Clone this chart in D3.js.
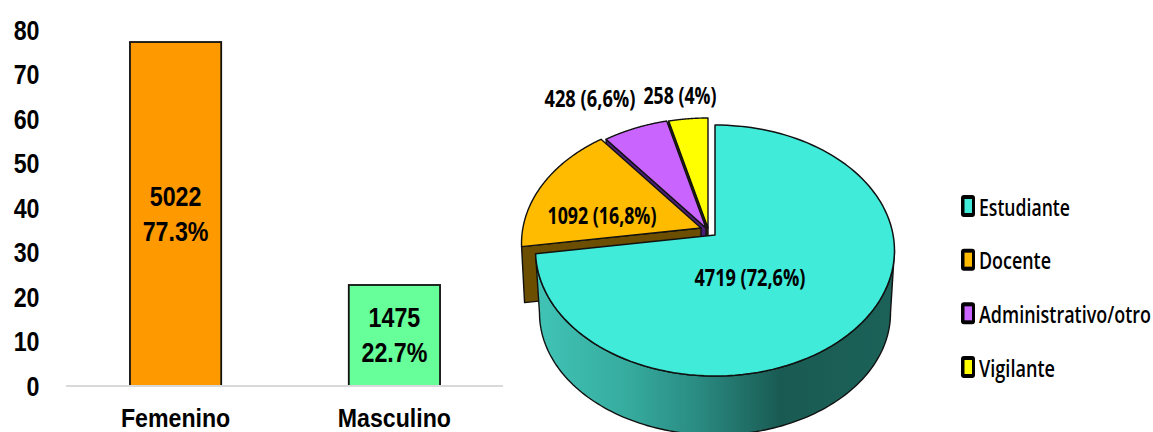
<!DOCTYPE html>
<html><head><meta charset="utf-8">
<script src="https://cdn.jsdelivr.net/npm/d3@7/dist/d3.min.js"></script>
<style>html,body{margin:0;padding:0;background:#fff}svg{display:block}</style>
</head><body><svg id="c" width="1153" height="432"></svg>
<script>
const genders = ["Femenino","Masculino"];
const genderPct = [77.3,22.7];
const genderCount = [5022,1475];
const genderFill = ["#FF9900","#66FF99"];
const yTicks = [0,10,20,30,40,50,60,70,80];

const roles = ["Estudiante","Docente","Administrativo/otro","Vigilante"];
const roleCount = [4719,1092,428,258];
const rolePctLabel = ["72,6%","16,8%","6,6%","4%"];
const roleTop = ["#40EBD9","#FFBB00","#C964FF","#FFFF00"];
const roleWall = ["#1C6259","#6B4E00","#4B1F78","#3A3606"];

const svg = d3.select("#c");
const sans = "'Liberation Sans',Arial,sans-serif";
const human = "'Open Sans',sans-serif";
const SX = 0.83;

function narrowText(px,py,t,anchor,fs=28,sx=SX){
  return svg.append("text").attr("transform",`translate(${px},${py}) scale(${sx},1)`)
    .attr("text-anchor",anchor).attr("font-family",sans).attr("font-weight",700)
    .attr("font-size",fs).attr("fill","#000").text(t);
}
function fitText(px,py,t,width,weight,fs){
  const el = svg.append("text").attr("font-family",human).attr("font-weight",weight)
    .attr("font-size",fs).attr("fill","#000").attr("dy","0.36em").text(t);
  const natural = el.node().getComputedTextLength();
  el.attr("transform",`translate(${px},${py}) scale(${width/natural},1)`);
  return el;
}

/* ---------- bars ---------- */
const y = d3.scaleLinear().domain([0,80]).range([386,30]);
const x = d3.scaleBand().domain(genders).range([66,503]).paddingInner(0.583).paddingOuter(0.29);
yTicks.forEach(t=>narrowText(39.5,y(t)+9.5,t,"end"));

svg.selectAll("rect.bar").data(genders).join("rect").attr("class","bar")
  .attr("x",d=>x(d)+0.5).attr("width",x.bandwidth())
  .attr("y",(d,i)=>y(genderPct[i])).attr("height",(d,i)=>y(0)-y(genderPct[i]))
  .attr("fill",(d,i)=>genderFill[i]).attr("stroke","#111").attr("stroke-width",1.8);
svg.append("line").attr("x1",66).attr("x2",503).attr("y1",y(0)).attr("y2",y(0)).attr("stroke","#d9d9d9").attr("stroke-width",2);

genders.forEach((g,i)=>{
  const cx = x(g)+x.bandwidth()/2+0.5, cy = y(genderPct[i]/2);
  narrowText(cx,cy-17.5+9.5,genderCount[i],"middle");
  narrowText(cx,cy+17.5+9.5,genderPct[i].toFixed(1)+"%","middle");
  narrowText(cx,426.5,g,"middle",26,0.89);
});

/* ---------- perspective pie ---------- */
const A = d3.pie().sort(null).startAngle(0).endAngle(2*Math.PI)(roleCount);
const apexX = 715, apexY = 235, bx = 178.1, by = 123.6, k = 0.1236;
function proj(r,a,ox=0,oy=0){
  const u = r*Math.sin(a), v = r*Math.cos(a), w = 1+k*v;
  return [apexX+ox+bx*u/w, apexY+oy-by*v/w];
}
const line = d3.line();
const arcPts = (a0,a1,f)=>d3.range(0,121).map(i=>f(a0+(a1-a0)*i/120));
const offs = [[0,0],[-14,-7],[-9,-7],[-7,-7]];
const T = 56;

const defs = svg.append("defs");
const grad = defs.append("linearGradient").attr("id","wall").attr("gradientUnits","userSpaceOnUse")
  .attr("x1",536).attr("x2",895).attr("y1",0).attr("y2",0);
[[0,"#40C4B6"],[0.25,"#36AC9F"],[0.45,"#2A8B82"],[0.68,"#195B53"],[1,"#1C6259"]].forEach(([o,c])=>grad.append("stop").attr("offset",o).attr("stop-color",c));

/* exploded slices, back to front */
[3,2,1].forEach(i=>{
  const s = A[i], [ox,oy] = offs[i];
  const ap = proj(0,0,ox,oy), p0 = proj(1,s.startAngle,ox,oy);
  const wall = [ap,p0,[p0[0]+3,p0[1]+T],[ap[0],ap[1]+T]];
  svg.append("path").attr("d",line(wall)+"Z").attr("fill",roleWall[i]).attr("stroke","#111").attr("stroke-width",1.4).attr("stroke-linejoin","round");
  const top = [ap,...arcPts(s.startAngle,s.endAngle,a=>proj(1,a,ox,oy))];
  svg.append("path").attr("d",line(top)+"Z").attr("fill",roleTop[i]).attr("stroke","#111").attr("stroke-width",1.4).attr("stroke-linejoin","round");
});

/* main slice: wall then top */
const m = A[0];
const wallTop = arcPts(Math.PI/2+0.12, m.endAngle, a=>proj(1,a));
const lowCx = 715, lowCy = 313, lowRx = 175.5, lowRy = 122;
const wallLow = d3.range(0,121).map(i=>{const t=Math.PI*i/120;return [lowCx-lowRx*Math.cos(t),lowCy+lowRy*Math.sin(t)];});
svg.append("path").attr("d",line([...wallTop,...wallLow])+"Z")
  .attr("fill","url(#wall)").attr("stroke","#111").attr("stroke-width",1.4);
svg.append("path").attr("d",line([proj(0,0),...arcPts(m.startAngle,m.endAngle,a=>proj(1,a))])+"Z")
  .attr("fill",roleTop[0]).attr("stroke","#111").attr("stroke-width",1.5).attr("stroke-linejoin","round");

/* pie labels */
const labelPos = [[750,277,111],[602,215,109],[590,98,91],[680,95,73]];
roles.forEach((r,i)=>{
  const [lx,ly,lw] = labelPos[i];
  fitText(lx-lw/2,ly,`${roleCount[i]} (${rolePctLabel[i]})`,lw,700,24);
});

/* legend */
const ly = d3.scalePoint().domain(roles).range([206,367]);
const legendW = [91,72,172,76];
roles.forEach((r,i)=>{
  svg.append("rect").attr("x",961).attr("y",ly(r)-11).attr("width",14).attr("height",22).attr("rx",3).attr("fill","#000");
  svg.append("rect").attr("x",964.5).attr("y",ly(r)-7).attr("width",7.5).attr("height",14).attr("fill",roleTop[i]);
  fitText(979,ly(r)+1,r,legendW[i],600,24);
});
</script></body></html>
